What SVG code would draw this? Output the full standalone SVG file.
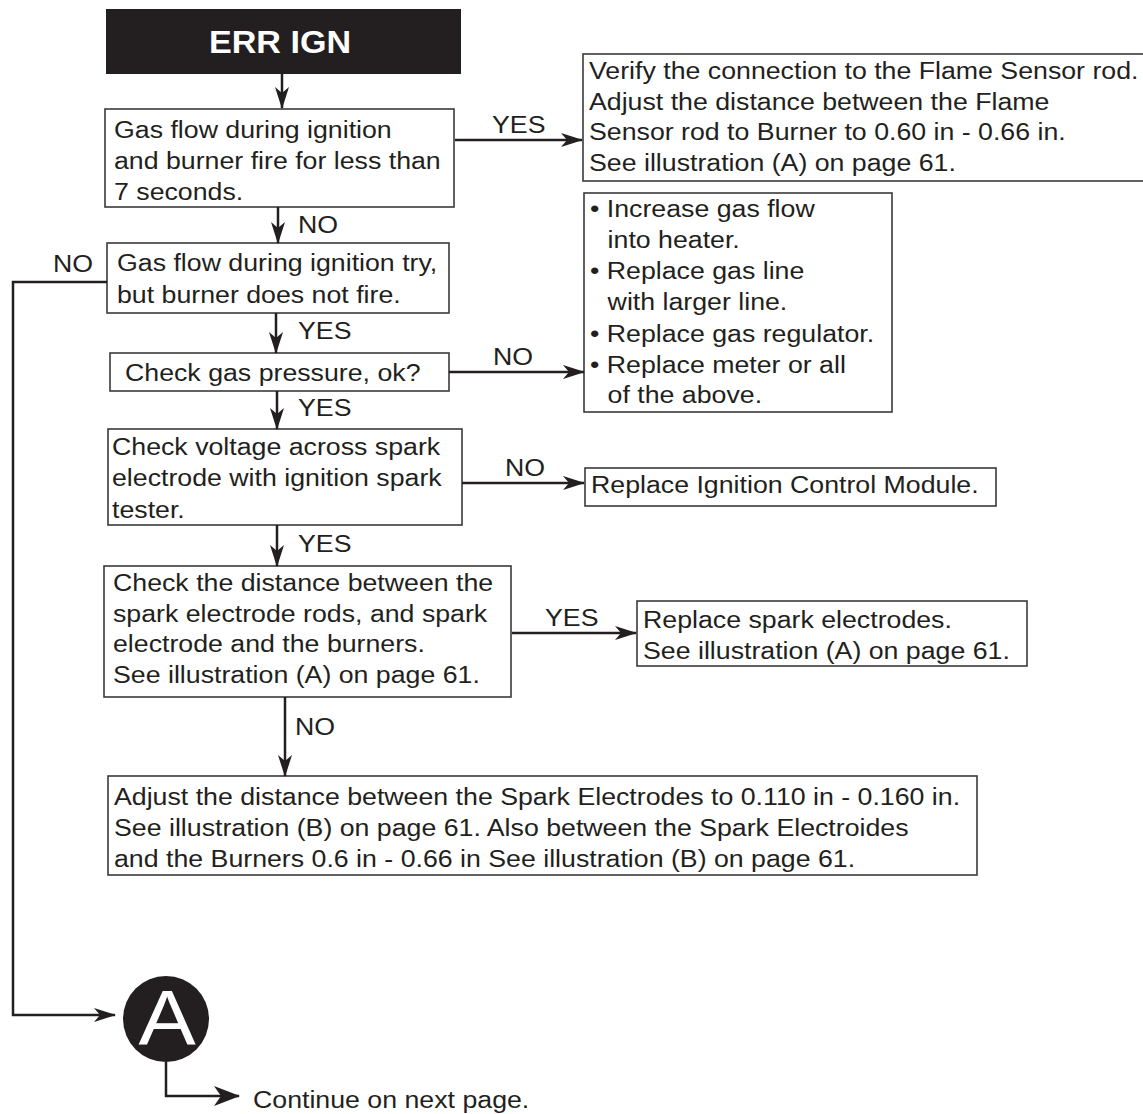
<svg xmlns="http://www.w3.org/2000/svg" width="1143" height="1114" viewBox="0 0 1143 1114">
<style>
.box{fill:#fff;stroke:#3a3a3a;stroke-width:1.6}
.t{font-family:"Liberation Sans",Arial,sans-serif;font-size:24.3px;fill:#231f20}
.hdr{font-family:"Liberation Sans",Arial,sans-serif;font-size:31px;font-weight:bold;fill:#fff}
.big{font-family:"Liberation Sans",Arial,sans-serif;font-size:78px;fill:#fff}
.c{fill:none;stroke:#231f20;stroke-width:2.5}
.a{marker-end:url(#ah)}
.a2{marker-end:url(#ah2)}
</style>
<defs>
<marker id="ah" markerUnits="userSpaceOnUse" viewBox="0 0 22 14" markerWidth="22" markerHeight="14" refX="21" refY="7" orient="auto">
<path d="M0,0 L22,7 L0,14 L6,7 z" fill="#231f20"/>
</marker>
<marker id="ah2" markerUnits="userSpaceOnUse" viewBox="0 0 26 20" markerWidth="26" markerHeight="20" refX="25" refY="10" orient="auto">
<path d="M0,0 L26,10 L0,20 L7,10 z" fill="#231f20"/>
</marker>
</defs>

<g id="start">
<rect x="106" y="9" width="355" height="65" fill="#231f20"/>
<text class="hdr" text-anchor="middle" transform="translate(280 53) scale(1.1 1)">ERR IGN</text>
</g>

<g id="q1">
<rect class="box" x="105" y="109" width="349" height="98"/>
<text class="t" transform="translate(114 138) scale(1.1 1)"><tspan x="0" y="0">Gas flow during ignition</tspan><tspan x="0" y="31">and burner fire for less than</tspan><tspan x="0" y="62">7 seconds.</tspan></text>
</g>

<g id="sensor">
<rect class="box" x="583" y="54" width="620" height="127"/>
<text class="t" transform="translate(589 79) scale(1.1 1)"><tspan x="0" y="0">Verify the connection to the Flame Sensor rod.</tspan><tspan x="0" y="31">Adjust the distance between the Flame</tspan><tspan x="0" y="61">Sensor rod to Burner to 0.60 in - 0.66 in.</tspan><tspan x="0" y="92">See illustration (A) on page 61.</tspan></text>
</g>

<g id="q2">
<rect class="box" x="107" y="243" width="342" height="70"/>
<text class="t" transform="translate(117 271) scale(1.1 1)"><tspan x="0" y="0">Gas flow during ignition try,</tspan><tspan x="0" y="32">but burner does not fire.</tspan></text>
</g>

<g id="gasfix">
<rect class="box" x="584" y="193" width="308" height="219"/>
<text class="t" transform="translate(590 217) scale(1.1 1)"><tspan x="0" y="0">• Increase gas flow</tspan><tspan x="16" y="31">into heater.</tspan><tspan x="0" y="62">• Replace gas line</tspan><tspan x="16" y="93">with larger line.</tspan><tspan x="0" y="125">• Replace gas regulator.</tspan><tspan x="0" y="156">• Replace meter or all</tspan><tspan x="16" y="186">of the above.</tspan></text>
</g>

<g id="q3">
<rect class="box" x="110" y="353" width="339" height="38"/>
<text class="t" transform="translate(125 381) scale(1.1 1)">Check gas pressure, ok?</text>
</g>

<g id="q4">
<rect class="box" x="108" y="429" width="354" height="96"/>
<text class="t" transform="translate(112 455) scale(1.1 1)"><tspan x="0" y="0">Check voltage across spark</tspan><tspan x="0" y="31">electrode with ignition spark</tspan><tspan x="0" y="63">tester.</tspan></text>
</g>

<g id="icm">
<rect class="box" x="585" y="468" width="411" height="38"/>
<text class="t" transform="translate(591 493) scale(1.1 1)">Replace Ignition Control Module.</text>
</g>

<g id="q5">
<rect class="box" x="104" y="566" width="407" height="131"/>
<text class="t" transform="translate(113 591) scale(1.1 1)"><tspan x="0" y="0">Check the distance between the</tspan><tspan x="0" y="31">spark electrode rods, and spark</tspan><tspan x="0" y="61">electrode and the burners.</tspan><tspan x="0" y="92">See illustration (A) on page 61.</tspan></text>
</g>

<g id="electrodes">
<rect class="box" x="637" y="601" width="390" height="65"/>
<text class="t" transform="translate(643 628) scale(1.1 1)"><tspan x="0" y="0">Replace spark electrodes.</tspan><tspan x="0" y="31">See illustration (A) on page 61.</tspan></text>
</g>

<g id="adjust">
<rect class="box" x="108" y="776" width="869" height="99"/>
<text class="t" transform="translate(114 805) scale(1.1 1)"><tspan x="0" y="0">Adjust the distance between the Spark Electrodes to 0.110 in - 0.160 in.</tspan><tspan x="0" y="31">See illustration (B) on page 61. Also between the Spark Electroides</tspan><tspan x="0" y="62">and the Burners 0.6 in - 0.66 in See illustration (B) on page 61.</tspan></text>
</g>

<g id="connectorA">
<circle cx="166" cy="1019" r="43" fill="#231f20"/>
<text class="big" text-anchor="middle" transform="translate(167 1045) scale(1.1 1)">A</text>
</g>

<g id="continue">
<text class="t" transform="translate(253 1108) scale(1.1 1)">Continue on next page.</text>
</g>

<g id="connectors">
<line class="c a" x1="282" y1="74" x2="282" y2="108"/>
<line class="c a" x1="455" y1="140" x2="582" y2="140"/>
<line class="c a" x1="278" y1="207" x2="278" y2="243"/>
<polyline class="c a" points="107,282 13,282 13,1015 115,1015"/>
<line class="c a" x1="276" y1="313" x2="276" y2="353"/>
<line class="c a" x1="449" y1="372" x2="584" y2="372"/>
<line class="c a" x1="277" y1="391" x2="277" y2="429"/>
<line class="c a" x1="462" y1="483" x2="584" y2="483"/>
<line class="c a" x1="277" y1="525" x2="277" y2="566"/>
<line class="c a" x1="512" y1="633" x2="636" y2="633"/>
<line class="c a" x1="285" y1="697" x2="285" y2="776"/>
<polyline class="c a2" points="166,1062 166,1096 239,1096"/>
<text class="t" transform="translate(492 133) scale(1.1 1)">YES</text>
<text class="t" transform="translate(298 233) scale(1.1 1)">NO</text>
<text class="t" transform="translate(53 272) scale(1.1 1)">NO</text>
<text class="t" transform="translate(298 339) scale(1.1 1)">YES</text>
<text class="t" transform="translate(493 365) scale(1.1 1)">NO</text>
<text class="t" transform="translate(298 416) scale(1.1 1)">YES</text>
<text class="t" transform="translate(505 476) scale(1.1 1)">NO</text>
<text class="t" transform="translate(298 552) scale(1.1 1)">YES</text>
<text class="t" transform="translate(545 626) scale(1.1 1)">YES</text>
<text class="t" transform="translate(295 735) scale(1.1 1)">NO</text>
</g>
</svg>
